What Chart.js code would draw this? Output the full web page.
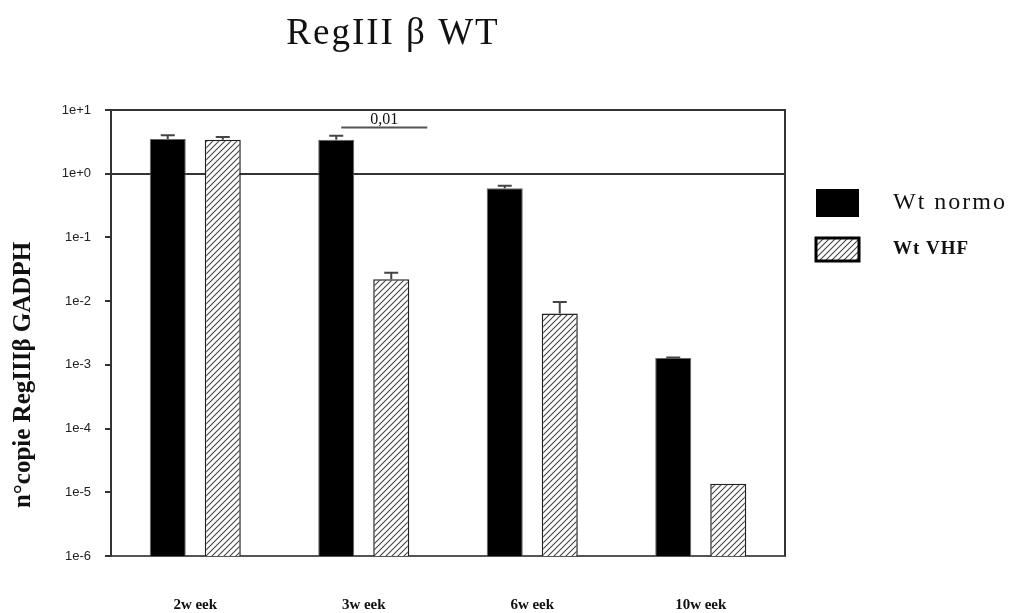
<!DOCTYPE html>
<html>
<head>
<meta charset="utf-8">
<script src="https://cdn.jsdelivr.net/npm/chart.js@4"></script>
<style>
  body { margin: 0; background: #fff; }
  #wrap { width: 1017px; height: 613px; }
</style>
</head>
<body>
<div id="wrap"><canvas id="chart" width="1017" height="613"></canvas></div>
<script>
const categories = ["2w eek", "3w eek", "6w eek", "10w eek"];
const normoValues = [3.5, 3.4, 0.59, 0.00128];
const normoErrors = [0.5, 0.55, 0.06, 0.00003];
const vhfValues = [3.4, 0.022, 0.0064, 0.0000136];
const vhfErrors = [0.37, 0.006, 0.0033, 0];
const yTickValues = [1e-6, 1e-5, 1e-4, 1e-3, 1e-2, 1e-1, 1, 10];
const yTickLabels = ["1e-6", "1e-5", "1e-4", "1e-3", "1e-2", "1e-1", "1e+0", "1e+1"];
const seriesNames = ["Wt normo", "Wt VHF"];
const pValueText = "0,01";
const pValueLevel = 5.3;

function makeHatch() {
  const c = document.createElement("canvas");
  c.width = 6;
  c.height = 6;
  const g = c.getContext("2d");
  g.fillStyle = "#fff";
  g.fillRect(0, 0, 6, 6);
  g.strokeStyle = "#444";
  g.lineWidth = 1.1;
  g.beginPath();
  g.moveTo(-1, 7); g.lineTo(7, -1);
  g.moveTo(-1, 1); g.lineTo(1, -1);
  g.moveTo(5, 7); g.lineTo(7, 5);
  g.stroke();
  return g.createPattern(c, "repeat");
}

const hatch = document.getElementById("chart").getContext("2d") && makeHatch();

const decorations = {
  id: "decorations",
  afterDatasetsDraw(chart) {
    const ctx = chart.ctx;
    const y = chart.scales.y;
    const errs = [normoErrors, vhfErrors];
    ctx.save();
    ctx.strokeStyle = "#444";
    ctx.lineWidth = 2;
    chart.data.datasets.forEach((ds, i) => {
      const meta = chart.getDatasetMeta(i);
      meta.data.forEach((bar, j) => {
        const e = errs[i][j];
        if (!e) return;
        const top = y.getPixelForValue(ds.data[j] + e);
        ctx.beginPath();
        ctx.moveTo(bar.x, bar.y);
        ctx.lineTo(bar.x, top);
        ctx.moveTo(bar.x - 7, top);
        ctx.lineTo(bar.x + 7, top);
        ctx.stroke();
      });
    });
    ctx.restore();
  },
  afterDraw(chart) {
    const ctx = chart.ctx;
    const a = chart.chartArea;
    const y = chart.scales.y;
    ctx.save();

    // frame
    ctx.strokeStyle = "#333";
    ctx.lineWidth = 2;
    ctx.beginPath();
    ctx.moveTo(a.left, a.top);
    ctx.lineTo(a.right, a.top);
    ctx.lineTo(a.right, a.bottom);
    ctx.stroke();

    // title
    ctx.fillStyle = "#111";
    ctx.font = "37px 'Liberation Serif', 'DejaVu Serif', serif";
    ctx.textAlign = "center";
    ctx.textBaseline = "alphabetic";
    ctx.letterSpacing = "2px";
    ctx.fillText("RegIII β WT", 393, 44);
    ctx.letterSpacing = "0px";

    // y axis title
    ctx.save();
    ctx.translate(24, 375);
    ctx.rotate(-Math.PI / 2);
    ctx.font = "bold 25px 'Liberation Serif', serif";
    ctx.textBaseline = "middle";
    ctx.fillText("n°copie RegIIIβ GADPH", 0, 0);
    ctx.restore();

    // significance bar
    const m0 = chart.getDatasetMeta(0).data[1];
    const m1 = chart.getDatasetMeta(1).data[1];
    const py = y.getPixelForValue(pValueLevel);
    ctx.strokeStyle = "#555";
    ctx.lineWidth = 2;
    ctx.beginPath();
    ctx.moveTo(m0.x + 5, py);
    ctx.lineTo(m1.x + 36, py);
    ctx.stroke();
    ctx.font = "16px 'Liberation Serif', serif";
    ctx.fillStyle = "#111";
    ctx.textAlign = "center";
    ctx.fillText(pValueText, (m0.x + m1.x + 41) / 2, py - 4);

    // legend
    const lx = 816;
    ctx.fillStyle = "#000";
    ctx.fillRect(lx, 189, 43, 28);
    ctx.fillStyle = hatch;
    ctx.fillRect(lx, 238, 43, 23);
    ctx.strokeStyle = "#000";
    ctx.lineWidth = 3;
    ctx.strokeRect(lx, 238, 43, 23);
    ctx.fillStyle = "#111";
    ctx.textAlign = "left";
    ctx.font = "24px 'Liberation Serif', serif";
    ctx.letterSpacing = "2px";
    ctx.fillText(seriesNames[0], 893, 209);
    ctx.font = "bold 19px 'Liberation Serif', serif";
    ctx.letterSpacing = "1px";
    ctx.fillText(seriesNames[1], 893, 254);
    ctx.restore();
  },
};

new Chart(document.getElementById("chart"), {
  type: "bar",
  data: {
    labels: categories,
    datasets: [
      {
        label: seriesNames[0],
        data: normoValues,
        backgroundColor: "#000",
        borderColor: "#666",
        borderWidth: 1,
        categoryPercentage: 0.653,
        barPercentage: 0.655,
      },
      {
        label: seriesNames[1],
        data: vhfValues,
        backgroundColor: hatch,
        borderColor: "#222",
        borderWidth: 1.5,
        categoryPercentage: 0.653,
        barPercentage: 0.655,
      },
    ],
  },
  options: {
    responsive: false,
    animation: false,
    layout: { padding: { top: 110, right: 232, left: 0, bottom: 0 } },
    plugins: {
      legend: { display: false },
      title: { display: false },
      tooltip: { enabled: false },
    },
    scales: {
      x: {
        grid: { display: false, drawTicks: false },
        border: { display: true, color: "#555", width: 2 },
        ticks: {
          color: "#111",
          padding: 40,
          font: { family: "'Liberation Serif', serif", weight: "bold", size: 15 },
        },
        afterFit(scale) {
          scale.height = 57;
        },
      },
      y: {
        type: "logarithmic",
        min: 1e-6,
        max: 10,
        afterBuildTicks(scale) {
          scale.ticks = yTickValues.map((v) => ({ value: v }));
        },
        afterFit(scale) {
          scale.width = 111;
        },
        grid: {
          color: (c) => (c.tick && c.tick.value === 1 ? "#333" : "rgba(0,0,0,0)"),
          lineWidth: 2,
          tickColor: "#333",
          tickLength: 6,
          tickWidth: 2,
        },
        border: { display: true, color: "#333", width: 2 },
        ticks: {
          color: "#222",
          padding: 14,
          font: { family: "'Liberation Sans', Arial, sans-serif", size: 13 },
          callback: (v) => {
            const i = yTickValues.indexOf(v);
            return i >= 0 ? yTickLabels[i] : "";
          },
        },
      },
    },
  },
  plugins: [decorations],
});
</script>
</body>
</html>
